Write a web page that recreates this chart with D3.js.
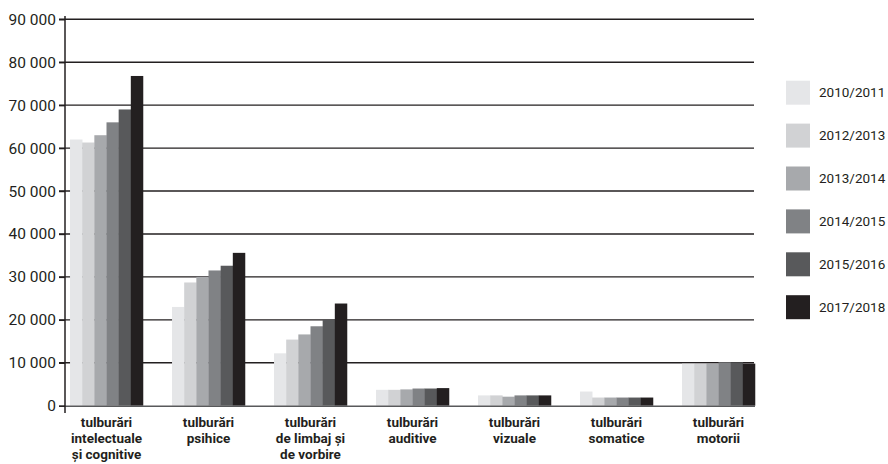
<!DOCTYPE html>
<html>
<head>
<meta charset="utf-8">
<script src="https://cdn.jsdelivr.net/npm/d3@7/dist/d3.min.js"></script>
<style>
  html, body { margin: 0; padding: 0; background: #fff; }
  svg { display: block; }
</style>
</head>
<body>
<svg id="chart" width="888" height="464"></svg>
<script>
const categories = [
  ["tulburări", "intelectuale", "și cognitive"],
  ["tulburări", "psihice"],
  ["tulburări", "de limbaj și", "de vorbire"],
  ["tulburări", "auditive"],
  ["tulburări", "vizuale"],
  ["tulburări", "somatice"],
  ["tulburări", "motorii"]
];
const years = ["2010/2011", "2012/2013", "2013/2014", "2014/2015", "2015/2016", "2017/2018"];
const v2010 = [62000, 23000, 12200, 3700, 2400, 3300, 9800];
const v2012 = [61300, 28700, 15400, 3700, 2400, 1900, 9800];
const v2013 = [63000, 30000, 16600, 3800, 2100, 1900, 9800];
const v2014 = [66000, 31500, 18500, 4000, 2400, 1900, 10100];
const v2015 = [69000, 32600, 20000, 4000, 2400, 1900, 10100];
const v2017 = [76800, 35600, 23800, 4100, 2400, 1900, 9800];
const yTicks = [0, 10000, 20000, 30000, 40000, 50000, 60000, 70000, 80000, 90000];
const colors = ["#e5e6e8", "#d1d2d4", "#a7a9ac", "#808285", "#58595b", "#231f20"];

const series = [v2010, v2012, v2013, v2014, v2015, v2017];

const svg = d3.select("#chart");
const fontFamily = "Roboto, 'Open Sans', sans-serif";

const y = d3.scaleLinear().domain([0, 90000]).range([405.7, 19.3]);
const x0 = d3.scaleBand().domain(d3.range(categories.length))
  .range([55.5, 769.5]).paddingInner(0.285).paddingOuter(0.1425);
const x1 = d3.scaleBand().domain(d3.range(years.length)).range([0, x0.bandwidth()]);

const axisX = 65, gridEnd = 754;
const fmt = v => d3.format(",")(v).replace(/,/g, " ");

// gridlines
const grid = svg.append("g");
grid.selectAll("line").data(yTicks.filter(d => d > 0)).join("line")
  .attr("x1", 59).attr("x2", gridEnd)
  .attr("y1", d => y(d)).attr("y2", d => y(d))
  .attr("stroke", "#231f20").attr("stroke-width", 1.4);

// bars
const groups = svg.append("g").selectAll("g").data(categories).join("g")
  .attr("transform", (d, i) => `translate(${x0(i)},0)`);
groups.selectAll("rect").data((d, i) => series.map((s, k) => ({k, v: s[i]}))).join("rect")
  .attr("x", d => x1(d.k))
  .attr("width", x1.bandwidth() + 0.3)
  .attr("y", d => y(d.v))
  .attr("height", d => y(0) - y(d.v))
  .attr("fill", d => colors[d.k]);

// baseline
svg.append("line").attr("x1", 59).attr("x2", gridEnd + 1)
  .attr("y1", y(0) + 0.5).attr("y2", y(0) + 0.5)
  .attr("stroke", "#58595b").attr("stroke-width", 1.6);

// y axis
const yAxis = d3.axisLeft(y).tickValues(yTicks).tickFormat(fmt).tickSize(6).tickPadding(3);
const gy = svg.append("g").attr("transform", `translate(${axisX},0)`).call(yAxis);
gy.select(".domain").remove();
gy.selectAll(".tick line").attr("stroke", "#231f20").attr("stroke-width", 1.4);
gy.selectAll(".tick text").attr("fill", "#231f20")
  .style("font-family", fontFamily).style("font-size", "15.5px");
svg.append("line").attr("x1", axisX).attr("x2", axisX)
  .attr("y1", 16).attr("y2", 413)
  .attr("stroke", "#231f20").attr("stroke-width", 1.5);

// x labels
const xl = svg.append("g");
categories.forEach((lines, i) => {
  const t = xl.append("text")
    .attr("x", x0(i) + x0.bandwidth() / 2)
    .attr("y", 426.5)
    .attr("text-anchor", "middle")
    .attr("fill", "#231f20")
    .style("font-family", fontFamily).style("font-weight", "bold").style("font-size", "13.5px");
  lines.forEach((l, j) => t.append("tspan")
    .attr("x", x0(i) + x0.bandwidth() / 2).attr("dy", j === 0 ? 0 : 16.2).text(l));
});

// legend
const lg = svg.append("g").selectAll("g").data(years).join("g")
  .attr("transform", (d, i) => `translate(786,${80.7 + i * 42.9})`);
lg.append("rect").attr("width", 24).attr("height", 24).attr("fill", (d, i) => colors[i]);
lg.append("text").attr("x", 33).attr("y", 12).attr("dy", "0.35em")
  .attr("fill", "#231f20")
  .style("font-family", fontFamily).style("font-size", "13.5px")
  .text(d => d);
</script>
</body>
</html>
